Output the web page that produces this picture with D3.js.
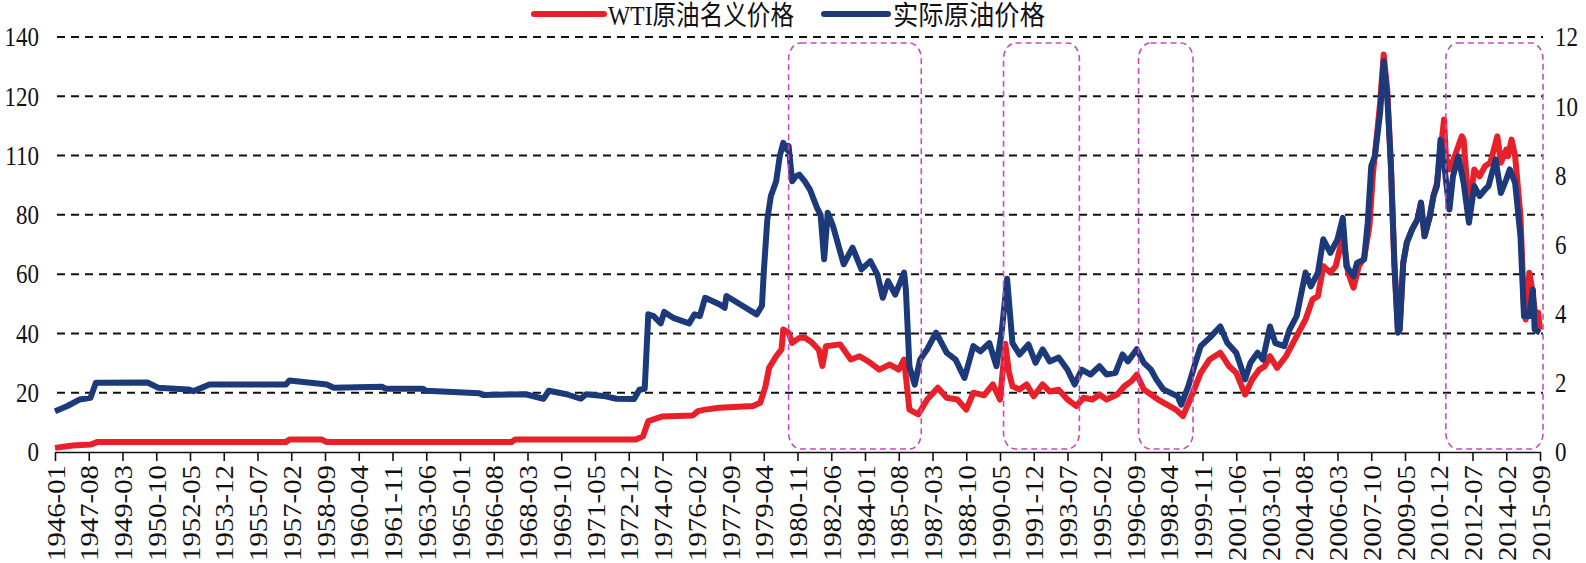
<!DOCTYPE html>
<html>
<head>
<meta charset="utf-8">
<script src="https://cdn.jsdelivr.net/npm/d3@7"></script>
<style>
  body { margin: 0; background: #fff; }
  svg { display: block; }
</style>
</head>
<body>
<svg id="chart" width="1586" height="563"></svg>
<script>
// monthly categories 1946-01 .. 2015-09
const months = d3.timeMonth.range(new Date(1946, 0, 1), new Date(2015, 9, 1)).map(d3.timeFormat('%Y-%m'));

const leftTickValues = [0, 20, 40, 60, 80, 100, 120, 140];
const leftTickLabels = ['0', '20', '40', '60', '80', '110', '120', '140'];
const rightTickValues = [0, 2, 4, 6, 8, 10, 12];

const seriesNames = ['WTI原油名义价格', '实际原油价格'];

// WTI nominal price (left axis)
const wtiNominal = [
    ['1946-01', 1.4], ['1946-11', 2.2], ['1947-09', 2.5], ['1948-01', 3.4], ['1956-11', 3.4],
    ['1957-01', 4.2], ['1958-07', 4.2], ['1958-10', 3.4], ['1967-06', 3.4], ['1967-08', 4.2],
    ['1973-04', 4.2], ['1973-08', 5.3], ['1973-11', 10.4], ['1974-07', 12.0], ['1974-11', 12.1],
    ['1975-12', 12.3], ['1976-03', 13.8], ['1976-07', 14.3], ['1977-03', 14.9], ['1978-10', 15.5],
    ['1979-02', 16.6], ['1979-05', 22.2], ['1979-07', 28.4], ['1979-11', 32.3], ['1980-02', 34.6],
    ['1980-03', 41.3], ['1980-06', 40.2], ['1980-08', 36.8], ['1980-12', 38.5], ['1981-03', 38.6],
    ['1981-07', 37.0], ['1981-11', 34.5], ['1982-01', 29.0], ['1982-03', 35.7], ['1982-11', 36.3],
    ['1983-05', 31.2], ['1983-10', 32.3], ['1984-04', 30.1], ['1984-09', 27.8], ['1985-03', 29.5],
    ['1985-08', 27.8], ['1985-11', 31.2], ['1986-01', 20.0], ['1986-02', 14.3], ['1986-07', 12.7],
    ['1986-12', 17.7], ['1987-06', 21.7], ['1987-11', 18.3], ['1988-05', 17.7], ['1988-10', 14.3],
    ['1989-02', 20.0], ['1989-08', 19.1], ['1990-01', 22.8], ['1990-05', 17.7], ['1990-08', 36.5],
    ['1990-10', 27.0], ['1990-12', 22.2], ['1991-04', 21.1], ['1991-08', 22.8], ['1991-12', 18.8],
    ['1992-05', 22.8], ['1992-09', 20.4], ['1993-02', 21.0], ['1993-07', 17.7], ['1993-12', 15.5],
    ['1994-04', 18.3], ['1994-09', 17.7], ['1995-01', 19.4], ['1995-05', 17.7], ['1995-11', 19.4],
    ['1996-03', 22.2], ['1996-07', 23.9], ['1996-10', 26.1], ['1997-02', 21.1], ['1997-06', 19.4],
    ['1997-10', 17.7], ['1998-03', 16.0], ['1998-08', 14.3], ['1998-12', 12.1], ['1999-04', 17.7],
    ['1999-10', 26.7], ['2000-03', 31.2], ['2000-09', 33.5], ['2001-02', 28.9], ['2001-06', 26.7],
    ['2001-11', 19.4], ['2002-03', 24.5], ['2002-07', 27.8], ['2002-10', 28.9], ['2003-01', 32.3],
    ['2003-05', 28.4], ['2003-10', 32.3], ['2004-04', 39.1], ['2004-09', 44.7], ['2005-01', 51.5],
    ['2005-04', 52.6], ['2005-07', 62.7], ['2005-11', 60.5], ['2006-02', 62.7], ['2006-06', 72.8],
    ['2006-09', 60.5], ['2006-12', 55.4], ['2007-03', 62.7], ['2007-06', 65.5], ['2007-09', 76.2],
    ['2007-11', 94.2], ['2007-12', 99.8], ['2008-03', 117.8], ['2008-05', 134.1], ['2008-07', 122.3],
    ['2008-09', 97.6], ['2008-11', 63.8], ['2009-01', 41.3], ['2009-02', 41.3], ['2009-04', 63.8],
    ['2009-06', 70.6], ['2009-09', 75.1], ['2009-12', 78.4], ['2010-02', 84.1], ['2010-04', 72.8],
    ['2010-07', 79.6], ['2010-09', 86.3], ['2010-11', 90.8], ['2011-03', 112.2], ['2011-04', 99.8],
    ['2011-06', 95.3], ['2011-09', 99.8], ['2012-01', 106.5], ['2012-02', 105.4], ['2012-05', 81.8],
    ['2012-08', 95.3], ['2012-11', 93.0], ['2013-02', 96.4], ['2013-05', 97.6], ['2013-09', 106.5],
    ['2013-11', 97.6], ['2014-02', 102.0], ['2014-03', 99.8], ['2014-05', 105.4], ['2014-07', 99.8],
    ['2014-10', 79.6], ['2014-12', 48.1], ['2015-01', 44.7], ['2015-03', 60.5], ['2015-04', 57.1],
    ['2015-07', 43.6], ['2015-08', 47.0], ['2015-09', 41.3]
];

const realPrice = [
    ['1946-01', 1.18], ['1946-08', 1.33], ['1947-03', 1.52], ['1947-09', 1.57], ['1947-12', 2.00],
    ['1950-05', 2.01], ['1950-11', 1.86], ['1952-04', 1.81], ['1952-07', 1.76], ['1953-04', 1.95],
    ['1956-11', 1.95], ['1957-01', 2.07], ['1958-10', 1.95], ['1959-02', 1.86], ['1961-05', 1.89],
    ['1961-07', 1.83], ['1963-04', 1.83], ['1963-06', 1.77], ['1965-12', 1.70], ['1966-02', 1.65],
    ['1968-02', 1.67], ['1968-12', 1.54], ['1969-03', 1.77], ['1970-01', 1.67], ['1970-09', 1.54],
    ['1970-12', 1.67], ['1971-11', 1.61], ['1972-05', 1.54], ['1973-03', 1.53], ['1973-06', 1.80],
    ['1973-09', 1.83], ['1973-11', 3.98], ['1974-02', 3.93], ['1974-06', 3.72], ['1974-08', 4.05],
    ['1975-01', 3.88], ['1975-10', 3.72], ['1976-01', 3.98], ['1976-04', 3.93], ['1976-07', 4.46],
    ['1977-03', 4.27], ['1977-06', 4.17], ['1977-07', 4.51], ['1978-04', 4.23], ['1978-12', 3.98],
    ['1979-03', 4.23], ['1979-04', 5.19], ['1979-06', 6.72], ['1979-08', 7.40], ['1979-11', 7.83],
    ['1980-01', 8.55], ['1980-03', 8.94], ['1980-05', 8.74], ['1980-06', 8.85], ['1980-08', 7.83],
    ['1980-10', 7.97], ['1980-12', 8.02], ['1981-03', 7.83], ['1981-06', 7.59], ['1981-10', 7.06],
    ['1981-12', 6.86], ['1982-02', 5.57], ['1982-04', 6.92], ['1982-07', 6.53], ['1983-01', 5.43],
    ['1983-06', 5.91], ['1983-11', 5.28], ['1984-04', 5.52], ['1984-08', 5.13], ['1984-11', 4.46],
    ['1985-02', 4.94], ['1985-06', 4.55], ['1985-11', 5.19], ['1985-12', 4.70], ['1986-02', 2.48],
    ['1986-05', 1.95], ['1986-08', 2.67], ['1986-12', 2.97], ['1987-05', 3.45], ['1987-11', 2.87],
    ['1988-04', 2.67], ['1988-09', 2.14], ['1989-02', 3.06], ['1989-06', 2.91], ['1989-11', 3.15],
    ['1990-03', 2.48], ['1990-06', 3.50], ['1990-09', 5.01], ['1990-12', 3.15], ['1991-04', 2.82],
    ['1991-09', 3.11], ['1992-01', 2.58], ['1992-05', 2.97], ['1992-09', 2.62], ['1993-02', 2.73],
    ['1993-07', 2.38], ['1993-11', 1.95], ['1994-03', 2.38], ['1994-08', 2.24], ['1995-01', 2.48],
    ['1995-05', 2.24], ['1995-10', 2.29], ['1996-02', 2.82], ['1996-05', 2.62], ['1996-10', 2.97],
    ['1997-02', 2.58], ['1997-06', 2.38], ['1997-09', 2.10], ['1998-01', 1.81], ['1998-05', 1.71],
    ['1998-09', 1.61], ['1998-11', 1.37], ['1999-03', 1.90], ['1999-07', 2.58], ['1999-10', 3.06],
    ['2000-03', 3.30], ['2000-09', 3.63], ['2001-01', 3.15], ['2001-06', 2.87], ['2001-11', 2.10],
    ['2002-02', 2.58], ['2002-06', 2.87], ['2002-09', 2.67], ['2003-01', 3.63], ['2003-04', 3.15],
    ['2003-09', 3.06], ['2003-12', 3.54], ['2004-04', 3.93], ['2004-09', 5.19], ['2004-12', 4.79],
    ['2005-04', 5.19], ['2005-07', 6.15], ['2005-11', 5.76], ['2006-03', 6.15], ['2006-06', 6.77],
    ['2006-08', 5.37], ['2006-12', 5.08], ['2007-02', 5.47], ['2007-06', 5.57], ['2007-08', 6.63],
    ['2007-10', 8.26], ['2007-12', 8.55], ['2008-03', 9.81], ['2008-05', 11.30], ['2008-07', 10.29],
    ['2008-09', 8.37], ['2008-11', 5.47], ['2009-01', 3.45], ['2009-02', 3.54], ['2009-04', 5.47],
    ['2009-06', 6.05], ['2009-09', 6.44], ['2009-12', 6.72], ['2010-02', 7.21], ['2010-04', 6.24],
    ['2010-07', 6.82], ['2010-09', 7.40], ['2010-11', 7.69], ['2011-01', 9.03], ['2011-03', 8.37],
    ['2011-04', 7.88], ['2011-06', 7.01], ['2011-08', 7.97], ['2011-11', 8.55], ['2012-02', 7.78],
    ['2012-05', 6.63], ['2012-08', 7.69], ['2012-11', 7.40], ['2013-02', 7.59], ['2013-04', 7.69],
    ['2013-08', 8.46], ['2013-11', 7.49], ['2014-02', 7.88], ['2014-04', 8.17], ['2014-07', 7.78],
    ['2014-10', 6.24], ['2014-12', 3.93], ['2015-03', 3.93], ['2015-05', 4.70], ['2015-06', 3.54],
    ['2015-09', 3.45]
];

// highlighted periods (dashed boxes)
const highlightPeriods = [
    ['1980-06', '1986-07'],
    ['1990-07', '1993-12'],
    ['1996-11', '1999-04'],
    ['2011-04', '2015-09']
];

const svg = d3.select('#chart');
const x = d3.scalePoint().domain(months).range([55, 1540]);
const yLeft = d3.scaleLinear().domain([0, 140]).range([452, 37]);
const yRight = d3.scaleLinear().domain([0, 12]).range([452, 37]);

const serif = '"Liberation Serif", "Times New Roman", serif';
const cjk = '"Liberation Serif", "Noto Sans CJK SC", serif';

// dashed grid lines
svg.append('g')
    .selectAll('line')
    .data(leftTickValues.slice(1))
    .enter().append('line')
    .attr('x1', 57)
    .attr('x2', 1543)
    .attr('y1', d => yLeft(d))
    .attr('y2', d => yLeft(d))
    .style('stroke', '#111')
    .style('stroke-width', 2)
    .style('stroke-dasharray', '8,6');

// lines
const redLine = d3.line().x(d => x(d[0])).y(d => yLeft(d[1]));
const blueLine = d3.line().x(d => x(d[0])).y(d => yRight(d[1]));

svg.append('path')
    .datum(wtiNominal)
    .attr('d', redLine)
    .style('fill', 'none')
    .style('stroke', '#e8202a')
    .style('stroke-width', 6)
    .style('stroke-linejoin', 'round');

svg.append('path')
    .datum(realPrice)
    .attr('d', blueLine)
    .style('fill', 'none')
    .style('stroke', '#1c3a7a')
    .style('stroke-width', 6)
    .style('stroke-linejoin', 'round');

// highlight boxes
svg.append('g')
    .selectAll('rect')
    .data(highlightPeriods)
    .enter().append('rect')
    .attr('x', d => x(d[0]))
    .attr('width', d => x(d[1]) - x(d[0]) + 3)
    .attr('y', yLeft(138))
    .attr('height', yLeft(1) - yLeft(138))
    .attr('rx', 12)
    .attr('ry', 16)
    .style('fill', 'none')
    .style('stroke', '#c54bbf')
    .style('stroke-width', 1.6)
    .style('stroke-dasharray', '6,4');

// x axis
const xAxis = svg.append('g')
    .attr('transform', 'translate(0,452)')
    .call(d3.axisBottom(x)
        .tickValues(months.filter((d, i) => i % 19 === 0))
        .tickSize(9)
        .tickSizeOuter(0));
xAxis.select('.domain').style('stroke', '#111').style('stroke-width', 1.6);
xAxis.selectAll('.tick line').style('stroke', '#111').style('stroke-width', 1.6);
xAxis.selectAll('.tick text')
    .attr('transform', 'rotate(-90)')
    .attr('x', -13)
    .attr('y', 0)
    .attr('dy', '0.35em')
    .attr('textLength', 96)
    .attr('lengthAdjust', 'spacingAndGlyphs')
    .style('text-anchor', 'end')
    .style('font-family', serif)
    .style('font-size', '26px')
    .style('fill', '#111');

// left axis
const leftAxis = svg.append('g')
    .attr('transform', 'translate(55,0)')
    .call(d3.axisLeft(yLeft)
        .tickValues(leftTickValues)
        .tickFormat((d, i) => leftTickLabels[i])
        .tickSize(0)
        .tickPadding(16));
leftAxis.select('.domain').remove();
leftAxis.selectAll('.tick text')
    .attr('transform', 'scale(1,1.2)')
    .style('font-family', serif)
    .style('font-size', '23px')
    .style('fill', '#111');

// right axis
const rightAxis = svg.append('g')
    .attr('transform', 'translate(1540,0)')
    .call(d3.axisRight(yRight)
        .tickValues(rightTickValues)
        .tickSize(0)
        .tickPadding(15));
rightAxis.select('.domain').remove();
rightAxis.selectAll('.tick text')
    .attr('transform', 'scale(1,1.2)')
    .style('font-family', serif)
    .style('font-size', '23px')
    .style('fill', '#111');

// legend
const legendItems = [
    { name: seriesNames[0], color: '#e8202a', x0: 534, x1: 604, tx: 608, tw: 186 },
    { name: seriesNames[1], color: '#1c3a7a', x0: 824, x1: 888, tx: 893, tw: 152 }
];
const legend = svg.append('g');
legendItems.forEach(item => {
    legend.append('line')
        .attr('x1', item.x0).attr('x2', item.x1)
        .attr('y1', 14).attr('y2', 14)
        .style('stroke', item.color)
        .style('stroke-width', 6)
        .style('stroke-linecap', 'round');
    legend.append('text')
        .attr('transform', `translate(${item.tx},25) scale(1,1.15)`)
        .attr('textLength', item.tw)
        .attr('lengthAdjust', 'spacingAndGlyphs')
        .style('font-family', cjk)
        .style('font-size', '24px')
        .style('fill', '#111')
        .text(item.name);
});
</script>
</body>
</html>
